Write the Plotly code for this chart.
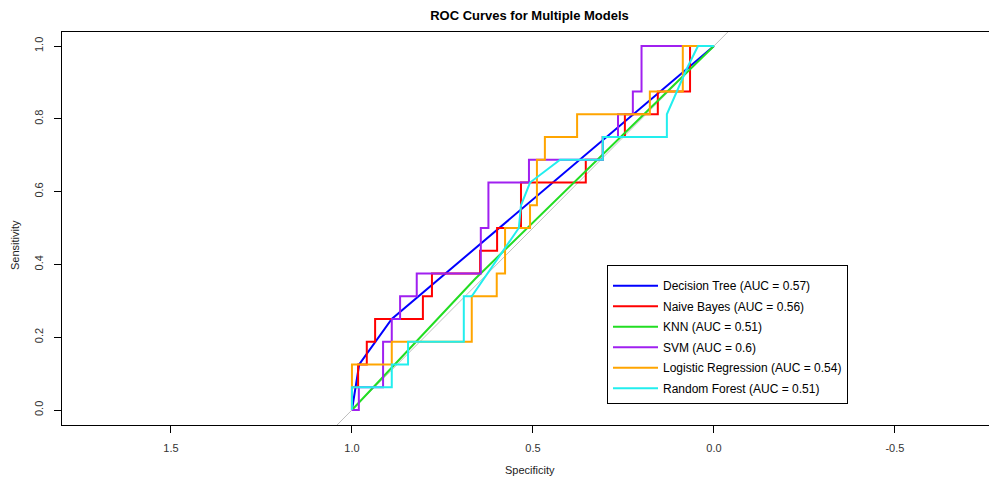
import plotly.graph_objects as go

# ---- data (specificity, sensitivity) ----
dt_spec = [1.0, 0.98, 0.89, 0.0]
dt_sens = [0.0, 0.125, 0.25, 1.0]

nb_spec = [1.0, 1.0, 0.983, 0.983, 0.959, 0.959, 0.936, 0.936, 0.804, 0.804, 0.779, 0.779,
           0.646, 0.646, 0.599, 0.599, 0.533, 0.533, 0.354, 0.354, 0.307, 0.307, 0.246, 0.246,
           0.155, 0.155, 0.066, 0.066, 0.0]
nb_sens = [0.0, 0.0625, 0.0625, 0.125, 0.125, 0.1875, 0.1875, 0.25, 0.25, 0.3125, 0.3125, 0.375,
           0.375, 0.4375, 0.4375, 0.5, 0.5, 0.625, 0.625, 0.6875, 0.6875, 0.75, 0.75, 0.8125,
           0.8125, 0.875, 0.875, 1.0, 1.0]

knn_spec = [1.0, 0.66, 0.0]
knn_sens = [0.0, 0.36, 1.0]

svm_spec = [1.0, 0.981, 0.981, 0.914, 0.914, 0.890, 0.890, 0.867, 0.867, 0.821, 0.821, 0.644,
            0.644, 0.623, 0.623, 0.511, 0.511, 0.307, 0.307, 0.265, 0.265, 0.224, 0.224, 0.2,
            0.2, 0.0]
svm_sens = [0.0, 0.0, 0.0625, 0.0625, 0.1875, 0.1875, 0.25, 0.25, 0.3125, 0.3125, 0.375, 0.375,
            0.5, 0.5, 0.625, 0.625, 0.6875, 0.6875, 0.75, 0.75, 0.8125, 0.8125, 0.875, 0.875,
            1.0, 1.0]

lr_spec = [1.0, 1.0, 0.890, 0.890, 0.669, 0.669, 0.600, 0.600, 0.577, 0.577, 0.508, 0.508,
           0.489, 0.489, 0.467, 0.467, 0.378, 0.378, 0.177, 0.177, 0.086, 0.086, 0.0]
lr_sens = [0.0, 0.125, 0.125, 0.1875, 0.1875, 0.3125, 0.3125, 0.375, 0.375, 0.5, 0.5, 0.5625,
           0.5625, 0.6875, 0.6875, 0.75, 0.75, 0.8125, 0.8125, 0.875, 0.875, 1.0, 1.0]

rf_spec = [1.0, 1.0, 0.890, 0.890, 0.845, 0.845, 0.691, 0.691, 0.669, 0.583, 0.539, 0.533,
           0.508, 0.425, 0.307, 0.307, 0.130, 0.130, 0.075, 0.044, 0.0]
rf_sens = [0.0, 0.0625, 0.0625, 0.125, 0.125, 0.1875, 0.1875, 0.3125, 0.3125, 0.4375, 0.5,
           0.5625, 0.625, 0.6875, 0.6875, 0.75, 0.75, 0.8125, 0.9375, 1.0, 1.0]

chance_spec = [2.0, -1.0]
chance_sens = [-1.0, 2.0]

model_names = ["Decision Tree (AUC = 0.57)", "Naive Bayes (AUC = 0.56)", "KNN (AUC = 0.51)",
               "SVM (AUC = 0.6)", "Logistic Regression (AUC = 0.54)", "Random Forest (AUC = 0.51)"]
model_colors = ["#0000FF", "#FF0000", "#22DD22", "#A020F0", "#FFA500", "#22EEEE"]

x_ticks = [1.5, 1.0, 0.5, 0.0, -0.5]
x_ticktext = ["1.5", "1.0", "0.5", "0.0", "-0.5"]
y_ticks = [0.0, 0.2, 0.4, 0.6, 0.8, 1.0]
y_ticktext = ["0.0", "0.2", "0.4", "0.6", "0.8", "1.0"]

FONT = "Liberation Sans, Arial, sans-serif"

# page body has an 8px margin: lay the figure out so the window shows the reference layout
OFF = 8
W, H = 997 - OFF, 481 - OFF
PL, PT, PR, PB = 62 - OFF, 32 - OFF, 997 - OFF, 425 - OFF   # plot box inside the figure
PW, PH = PR - PL, PB - PT

fig = go.Figure()
fig.add_trace(go.Scatter(x=chance_spec, y=chance_sens, mode="lines",
                         line=dict(color="#BEBEBE", width=1), showlegend=False, hoverinfo="skip"))

series = [(dt_spec, dt_sens), (nb_spec, nb_sens), (knn_spec, knn_sens),
          (svm_spec, svm_sens), (lr_spec, lr_sens), (rf_spec, rf_sens)]
for i, ((xs, ys), name, col) in enumerate(zip(series, model_names, model_colors)):
    fig.add_trace(go.Scatter(x=xs, y=ys, mode="lines", name=name, legendgroup=f"g{i}",
                             line=dict(color=col, width=2)))

fig.update_layout(
    width=W, height=H,
    margin=dict(l=PL, r=W - PR, t=PT, b=H - PB, autoexpand=False),
    paper_bgcolor="white", plot_bgcolor="white",
    font=dict(family=FONT, size=11, color="#222"),
    title=dict(text="<b>ROC Curves for Multiple Models</b>", x=0.5, xref="paper",
               xanchor="center", y=1 - (15 - OFF) / H, yref="container", yanchor="middle",
               font=dict(size=13, color="black", family=FONT), automargin=False),
    showlegend=True,
    legend=dict(x=(607 - 62) / PW, y=(425 - 265) / PH, xanchor="left", yanchor="top",
                bordercolor="black", borderwidth=1, bgcolor="white",
                font=dict(size=12, color="black", family=FONT),
                title=dict(text=" ", font=dict(size=4)),
                itemwidth=45, tracegroupgap=1.5),
)
fig.update_xaxes(range=[1.801, -0.782], tickvals=x_ticks, ticktext=x_ticktext,
                 showgrid=False, zeroline=False, showline=True, linecolor="black",
                 linewidth=1, mirror=True, ticks="outside", ticklen=7, tickcolor="black",
                 ticklabelstandoff=6, tickfont=dict(size=11, color="#333"), automargin=False)
fig.update_yaxes(range=[-0.0412, 1.0385], tickvals=y_ticks, ticktext=y_ticktext,
                 showgrid=False, zeroline=False, showline=True, linecolor="black",
                 linewidth=1, ticks="outside", ticklen=7, tickcolor="black", tickangle=-90,
                 ticklabelstandoff=7, tickfont=dict(size=11, color="#333"), automargin=False)

fig.add_annotation(text="Specificity", xref="paper", yref="paper", x=0.5, y=(425 - 470) / PH,
                   xanchor="center", yanchor="middle", showarrow=False,
                   font=dict(size=11, color="#222"))
fig.add_annotation(text="Sensitivity", xref="paper", yref="paper", x=(15 - 62) / PW,
                   y=(425 - 245) / PH, xanchor="center", yanchor="middle", showarrow=False,
                   textangle=-90, font=dict(size=11, color="#222"))

fig.write_html("out.html")
